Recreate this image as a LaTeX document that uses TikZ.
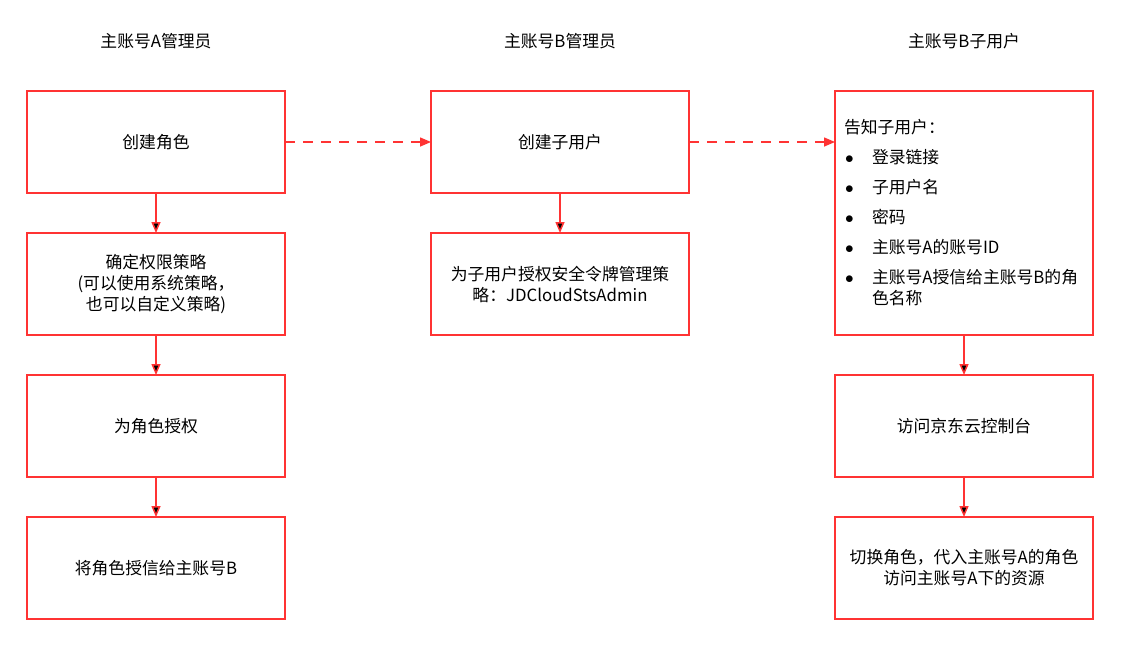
\documentclass[tikz,border=0pt]{standalone}
\usepackage{fontspec}
\setmainfont{Noto Sans CJK SC}
\usepackage{tikz}
\usetikzlibrary{arrows.meta,positioning}

\definecolor{linered}{RGB}{255,51,51}
\newcommand\bitem[1]{\makebox[28pt][l]{\hspace{1pt}$\bullet$}#1}

\begin{document}
\begin{tikzpicture}[x=1pt,y=1pt,->,>={Triangle[length=11pt,width=9pt]},
      node distance=40pt and 146pt,
      box/.style={draw=linered,line width=1.5pt,outer sep=0pt,minimum width=258pt,
        minimum height=102pt,inner xsep=9pt,align=center,
        font=\fontsize{16.8}{21}\selectfont},
      head/.style={font=\fontsize{16.8}{21}\selectfont},
      link/.style={draw=linered,line width=1.5pt},
      dashlink/.style={link,dash pattern=on 10pt off 8pt}]
    \useasboundingbox (0,0) rectangle (1125,-653);
    % first column
    \node[box] (a1) at (156,-142) {创建角色};
    \node[box,below=of a1] (a2) {确定权限策略\\(可以使用系统策略，\\也可以自定义策略)};
    \node[box,below=of a2] (a3) {为角色授权};
    \node[box,below=of a3] (a4) {将角色授信给主账号B};
    % second column
    \node[box,right=of a1] (b1) {创建子用户};
    \node[box,below=of b1] (b2) {为子用户授权安全令牌管理策\\略：JDCloudStsAdmin};
    % third column
    \node[box,right=of b1.north east,anchor=north west,minimum height=244pt,
      text width=240pt,align=left] (c1) {告知子用户：\\[9pt]
      \bitem{登录链接}\\[9pt]
      \bitem{子用户名}\\[9pt]
      \bitem{密码}\\[9pt]
      \bitem{主账号A的账号ID}\\[9pt]
      \bitem{\parbox[t]{205pt}{主账号A授信给主账号B的角\\色名称}}};
    \node[box,below=of c1] (c2) {访问京东云控制台};
    \node[box,below=of c2] (c3) {切换角色，代入主账号A的角色\\访问主账号A下的资源};
    % headers
    \node[head,above=39pt of a1] (ha) {主账号A管理员};
    \node[head,above=39pt of b1] (hb) {主账号B管理员};
    \node[head] (hc) at (hb -| c1) {主账号B子用户};
    % links
    \path[link] (a1) edge (a2)
      (a2) edge (a3)
      (a3) edge (a4)
      (b1) edge (b2)
      (c1) edge (c2)
      (c2) edge (c3);
    \draw[dashlink] (a1) -- (b1);
    \draw[dashlink] (b1.east) -- (b1.east -| c1.west);
  \end{tikzpicture}
\end{document}
